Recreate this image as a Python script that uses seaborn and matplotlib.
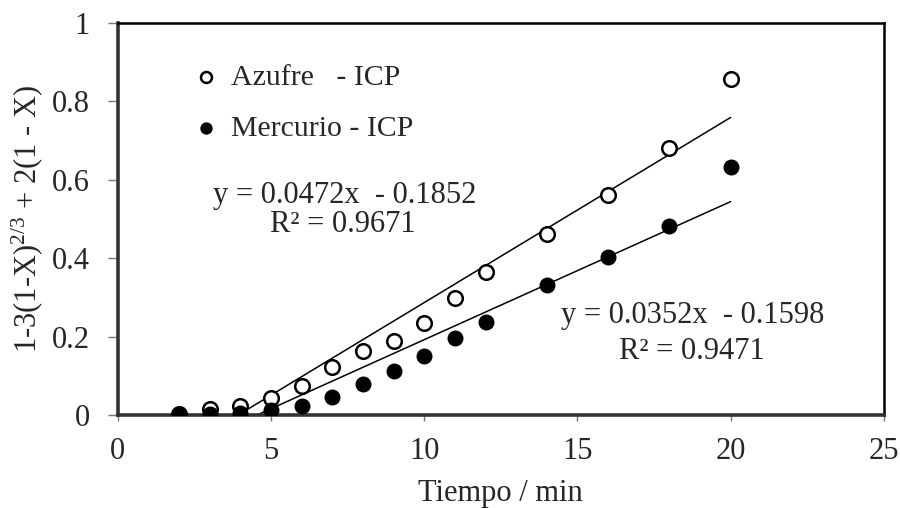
import numpy as np
import pandas as pd
import matplotlib
matplotlib.use("Agg")
import matplotlib.pyplot as plt
import seaborn as sns

# ---- data ----
tiempo = [2, 3, 4, 5, 6, 7, 8, 9, 10, 11, 12, 14, 16, 18, 20]
azufre = [0.003, 0.015, 0.024, 0.043, 0.074, 0.122, 0.163, 0.19, 0.234, 0.298, 0.365, 0.462, 0.561, 0.681, 0.857]
mercurio = [0.003, 0.002, 0.005, 0.013, 0.023, 0.046, 0.08, 0.112, 0.151, 0.196, 0.237, 0.332, 0.403, 0.482, 0.633]
slopes = [0.0472, 0.0352]
intercepts = [-0.1852, -0.1598]
r2 = [0.9671, 0.9471]
series_names = ["Azufre   - ICP", "Mercurio - ICP"]
x_ticks = [0, 5, 10, 15, 20, 25]
y_ticks = [0, 0.2, 0.4, 0.6, 0.8, 1]
y_tick_labels = ["0", "0.2", "0.4", "0.6", "0.8", "1"]

sns.set_style("ticks")
plt.rcParams['font.family'] = ['Liberation Serif', 'DejaVu Serif']
plt.rcParams['mathtext.fontset'] = 'custom'
plt.rcParams['mathtext.rm'] = 'Liberation Serif'
plt.rcParams['mathtext.it'] = 'Liberation Serif:italic'

FS = 22

fig = plt.figure(figsize=(9, 5.08), dpi=100)
ax = fig.add_axes([0.131, 0.183, 0.851, 0.772])

df = pd.DataFrame({"t": tiempo, "az": azufre, "hg": mercurio})

# trend lines
for s, b in zip(slopes, intercepts):
    x0 = -b / s
    xs = np.array([x0, 20.0])
    sns.lineplot(x=xs, y=s * xs + b, ax=ax, color="black", linewidth=1.1, zorder=2)

sns.scatterplot(data=df, x="t", y="az", ax=ax, marker="o", s=110,
                facecolor="white", edgecolor="black", linewidth=1.8,
                zorder=3, label=series_names[0])
sns.scatterplot(data=df, x="t", y="hg", ax=ax, marker="o", s=110,
                color="black", edgecolor="black", linewidth=1,
                zorder=4, label=series_names[1])

ax.set_xlim(0, 25)
ax.set_ylim(0, 1)
ax.set_xticks(x_ticks)
ax.set_xticklabels([str(v) for v in x_ticks])
ax.set_yticks(y_ticks)
ax.set_yticklabels(y_tick_labels)
ax.tick_params(axis='both', labelsize=FS, color="#777777", direction='out')
ax.tick_params(axis='y', length=7, width=1, pad=13)
ax.tick_params(axis='x', length=4, width=1, pad=12)

for side in ["top", "right"]:
    ax.spines[side].set_visible(True)
    ax.spines[side].set_linewidth(1.8)
    ax.spines[side].set_color("black")
for side in ["left", "bottom"]:
    ax.spines[side].set_linewidth(2.6)
    ax.spines[side].set_color("#333333")

ax.set_xlabel("Tiempo / min", fontsize=FS, labelpad=9)
ax.set_ylabel(r"1-3(1-X)$^{\mathregular{2/3}}$ + 2(1 - X)", fontsize=FS, labelpad=5)

leg = ax.legend(loc="upper left", bbox_to_anchor=(0.072, 0.925), frameon=False,
                fontsize=FS - 0.5, handletextpad=0.15, handlelength=1.4,
                labelspacing=0.8, markerscale=0.75, borderaxespad=0)

eq_pos = [(0.296, 0.561, 0.486), (0.751, 0.253, 0.163)]
for (xc, y1, y2), s, b, r in zip(eq_pos, slopes, intercepts, r2):
    ax.text(xc, y1, f"y = {s}x  - {abs(b)}", transform=ax.transAxes,
            ha="center", va="center", fontsize=FS)
    ax.text(xc - 0.002, y2, f"R² = {r}", transform=ax.transAxes,
            ha="center", va="center", fontsize=FS)

fig.savefig("out.png", dpi=100)
